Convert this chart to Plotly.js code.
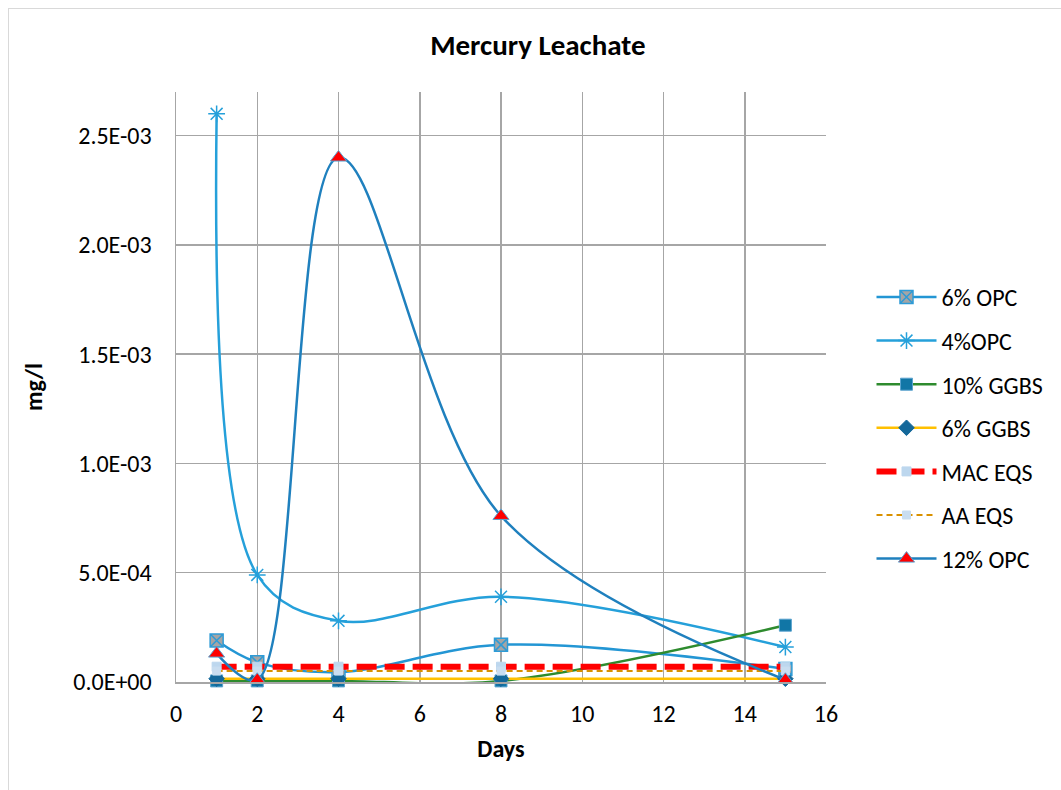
<!DOCTYPE html>
<html>
<head>
<meta charset="utf-8">
<script src="https://cdn.plot.ly/plotly-3.0.1.min.js"></script>
<style>
body{margin:0;padding:0;background:#fff;}
#chart{width:1061px;height:790px;}
#frame{position:absolute;left:8px;top:8px;width:1100px;height:800px;border:1px solid #d9d9d9;pointer-events:none;}
</style>
</head>
<body>
<div id="chart"></div>
<div id="frame"></div>
<script>
const days = [1, 2, 4, 8, 15];
const opc6 = [1.9e-4, 9e-5, 4.5e-5, 1.7e-4, 6e-5];
const opc4 = [2.6e-3, 4.9e-4, 2.8e-4, 3.9e-4, 1.6e-4];
const ggbs10 = [5e-6, 5e-6, 5e-6, 5e-6, 2.6e-4];
const ggbs6 = [1.5e-5, 1.5e-5, 1.5e-5, 1.5e-5, 1.5e-5];
const macEqs = [7e-5, 7e-5, 7e-5, 7e-5, 7e-5];
const aaEqs = [5e-5, 5e-5, 5e-5, 5e-5, 5e-5];
const opc12 = [1.3e-4, 1e-5, 2.4e-3, 7.6e-4, 1e-5];
const yTickVals = [0, 5e-4, 1e-3, 1.5e-3, 2e-3, 2.5e-3];
const yTickText = ['0.0E+00', '5.0E-04', '1.0E-03', '1.5E-03', '2.0E-03', '2.5E-03'];
const xTickVals = [0, 2, 4, 6, 8, 10, 12, 14, 16];

const font = 'Carlito, Calibri, Lato, "Open Sans", sans-serif';

function tr(name, y, line, marker, g) {
  return {x: days, y: y, name: name, type: 'scatter', mode: 'lines+markers',
    line: Object.assign({shape: 'spline', smoothing: 1}, line), marker: marker,
    legendgroup: g, cliponaxis: false};
}

const traces = [
  tr('6% OPC', opc6, {color: '#2396D4', width: 2.5},
     {symbol: 'square-x', size: 13, color: '#A5A5A5', line: {color: '#2E9BD6', width: 1.5}}, 'g1'),
  tr('4%OPC', opc4, {color: '#25A0DA', width: 2.5},
     {symbol: 'asterisk-open', size: 14, color: '#25A0DA', line: {color: '#25A0DA', width: 1.5}}, 'g2'),
  tr('10% GGBS', ggbs10, {color: '#2E8B2E', width: 2.5},
     {symbol: 'square', size: 12, color: '#1176A6', line: {color: '#5BA3CF', width: 1}}, 'g3'),
  tr('6% GGBS', ggbs6, {color: '#FFC000', width: 2.5},
     {symbol: 'diamond', size: 12, color: '#14689A', line: {color: '#14689A', width: 1}}, 'g4'),
  tr('MAC EQS', macEqs, {color: '#FF0000', width: 6, dash: '20px,8px', shape: 'linear'},
     {symbol: 'square', size: 9, color: '#BDD7EE', line: {color: '#BDD7EE', width: 1}}, 'g5'),
  tr('AA EQS', aaEqs, {color: '#D99100', width: 2, dash: '6px,4px', shape: 'linear'},
     {symbol: 'square', size: 8, color: '#C9DDF0', line: {color: '#C9DDF0', width: 1}}, 'g6'),
  tr('12% OPC', opc12, {color: '#1F80BE', width: 2.5},
     {symbol: 'triangle-up', size: 14, color: '#FF0000', line: {color: '#5BA3CF', width: 1}}, 'g7'),
];

const layout = {
  width: 1061, height: 790,
  margin: {l: 176, r: 235, t: 92, b: 108},
  paper_bgcolor: '#fff', plot_bgcolor: '#fff',
  font: {family: font, size: 24, color: '#000'},
  title: {text: '<b>Mercury Leachate</b>', font: {family: font, size: 29, color: '#000'},
          x: 0.507, xanchor: 'center', y: 0.943, yanchor: 'middle'},
  xaxis: {range: [0, 16], tickvals: xTickVals, showgrid: true, gridcolor: '#A6A6A6', gridwidth: 1.5,
          showline: true, linecolor: '#A6A6A6', linewidth: 1.5, zeroline: false, ticks: '',
          ticklabelstandoff: 10, tickfont: {size: 24},
          title: {text: '<b>Days</b>', font: {size: 24}, standoff: 13}},
  yaxis: {range: [0, 0.0027], tickvals: yTickVals, ticktext: yTickText, showgrid: true,
          gridcolor: '#A6A6A6', gridwidth: 1.5, showline: true, linecolor: '#A6A6A6', linewidth: 1.5,
          zeroline: false, ticks: '', ticklabelstandoff: 18, tickfont: {size: 24},
          title: {text: '<b>mg/l</b>', font: {size: 24}, standoff: 24}},
  legend: {x: 1.07, xanchor: 'left', y: 0.69, yanchor: 'top', traceorder: 'grouped',
           tracegroupgap: 9.4, itemwidth: 60, font: {size: 24}, bgcolor: 'rgba(0,0,0,0)'},
  showlegend: true
};
Plotly.newPlot('chart', traces, layout, {displayModeBar: false, staticPlot: true});
</script>
</body>
</html>
